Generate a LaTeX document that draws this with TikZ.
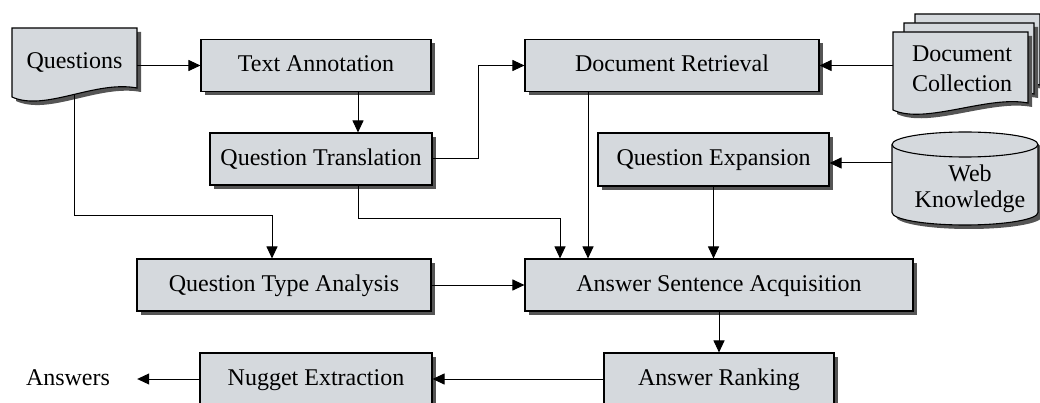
\documentclass[tikz,border=0pt]{standalone}
\usepackage{fontspec}
\setmainfont{Liberation Serif}
\usetikzlibrary{shadows,arrows.meta}
\definecolor{boxfill}{RGB}{213,217,221}
\definecolor{shadowc}{RGB}{85,85,85}
\tikzset{
  shp/.style={draw=black, line width=1.1pt, fill=boxfill,
    drop shadow={shadow xshift=4pt, shadow yshift=-4pt, fill=shadowc, opacity=1}},
  box/.style={shp, rectangle, minimum height=52pt, inner sep=0pt, text height=16pt, text depth=3pt},
  lbl/.style={inner sep=0pt, text height=16pt, text depth=3pt},
  arr/.style={line width=1pt, -{Triangle[length=12pt,width=11pt]}},
}
\begin{document}
\begin{tikzpicture}[x=1pt,y=-1pt,font=\fontsize{24}{30}\selectfont]
\useasboundingbox (0,0) rectangle (1040,403);
% Questions document shape
\filldraw[shp] (12,28) -- (137,28) -- (137,88) .. controls (95,80) and (45,112) .. (12,97) -- cycle;
\node[lbl, minimum width=125pt] (q) at (74.5,62) {Questions};
\coordinate (qb) at (74,95);
% Document Collection stack
\filldraw[shp] (915,14) -- (1040,14) -- (1040,85) .. controls (1000,77) and (945,107) .. (915,92) -- cycle;
\filldraw[shp] (904,23) -- (1034,23) -- (1034,94) .. controls (994,86) and (934,116) .. (904,101) -- cycle;
\filldraw[shp] (893,32) -- (1028,32) -- (1028,103) .. controls (988,95) and (925,125) .. (893,110) -- cycle;
\node[align=center, inner sep=0pt, font=\fontsize{24}{30}\selectfont] (dc) at (962,69) {Document\\Collection};
\coordinate (dcl) at (893,65.5);
% Web Knowledge cylinder
\filldraw[shp] (892,144.5) -- (892,212.5) arc[start angle=180,end angle=360,x radius=73pt,y radius=12.5pt]
  -- (1038,144.5) arc[start angle=0,end angle=180,x radius=73pt,y radius=12.5pt] -- cycle;
\draw[line width=1.1pt] (892,144.5) arc[start angle=180,end angle=360,x radius=73pt,y radius=12.5pt];
\node[align=center, inner sep=0pt, font=\fontsize{24}{26}\selectfont] (wk) at (970,189) {Web\\Knowledge};
\coordinate (wkl) at (892,163);
% boxes
\node[box, minimum width=230pt] (ta) at (316,65.5) {Text Annotation};
\node[box, minimum width=222pt] (qt) at (321,159) {Question Translation};
\node[box, minimum width=294pt] (dr) at (672,65.5) {Document Retrieval};
\node[box, minimum width=231pt, minimum height=53pt] (qe) at (713.5,159.5) {Question Expansion};
\node[box, minimum width=294pt] (qta) at (284,285) {Question Type Analysis};
\node[box, minimum width=388pt] (asa) at (719,285) {Answer Sentence Acquisition};
\node[box, minimum width=230pt] (ar) at (719,379) {Answer Ranking};
\node[box, minimum width=232pt] (ne) at (316,379) {Nugget Extraction};
\node[lbl, inner xsep=27pt] (ans) at (68,379) {Answers};
% junction coordinates
\coordinate (qj) at (272,216);
\coordinate (tj) at (560,219);
% connectors
\draw[arr] (q.east |- ta.west) -- (ta.west);
\draw[arr] ([xshift=42pt]ta.south) -- ([xshift=42pt]ta.south |- qt.north);
\draw[arr] (qt.east) -- ++(46,0) |- (dr.west);
\draw[arr] (dcl) -- (dr.east |- dcl);
\draw[arr] (wkl) -- (qe.east |- wkl);
\draw[arr] ([xshift=-84pt]dr.south) -- ([xshift=-84pt]dr.south |- asa.north);
\draw[arr] (qe.south) -- (qe.south |- asa.north);
\draw[arr] ([xshift=37pt]qt.south) |- (tj) -- (tj |- asa.north);
\draw[arr] (qb) |- (qj) -- (qj |- qta.north);
\draw[arr] (qta.east) -- (asa.west);
\draw[arr] (asa.south) -- (ar.north);
\draw[arr] (ar.west) -- (ne.east);
\draw[arr] (ne.west) -- (ans.east);
\end{tikzpicture}
\end{document}
